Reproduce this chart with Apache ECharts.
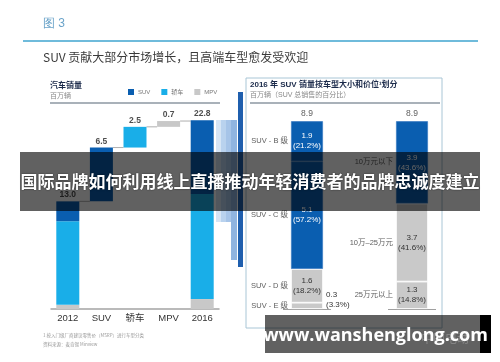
<!DOCTYPE html>
<html><head><meta charset="utf-8">
<script src="https://cdn.jsdelivr.net/npm/echarts@6/dist/echarts.min.js"></script>
<style>html,body{margin:0;padding:0;background:#fff}#c{width:500px;height:362px}</style>
</head><body><div id="c"></div>
<script>
// ---- Left chart: 汽车销量 (百万辆) waterfall ----
const categories = ['2012', 'SUV', '轿车', 'MPV', '2016'];
const suvValues = [2.4, 6.5, '-', '-', 8.9];
const carValues = [10.1, '-', 2.5, '-', 12.7];
const mpvValues = [0.5, '-', '-', 0.7, 1.2];
const waterfallLabels = ['13.0', '6.5', '2.5', '0.7', '22.8'];

// ---- Right chart: 2016 SUV 销量按车型大小和价位划分 ----
const segCategories = ['车型大小', '价位'];
const layer1Values = [0.3, 1.3];      // bottom
const layer2Values = [1.6, 3.7];
const layer3Values = [5.1, 3.9];
const layer4Values = [1.9, '-'];      // top
const layer1Pct = ['3.3%', '14.8%'];
const layer2Pct = ['18.2%', '41.6%'];
const layer3Pct = ['57.2%', '43.6%'];
const layer4Pct = ['21.2%', ''];
const layer1Names = ['SUV - E 级', '25万元以上'];
const layer2Names = ['SUV - D 级', '10万–25万元'];
const layer3Names = ['SUV - C 级', '10万元以下'];
const layer4Names = ['SUV - B 级', ''];
const segTotals = ['8.9', '8.9'];

const C_SUV = '#0a5eb0', C_CAR = '#19aee8', C_MPV = '#c8c8c8', C_GRAY = '#c9c9c9';
const FONT = "'Liberation Sans', 'Noto Sans CJK SC', sans-serif";

const num = v => (v === '-' ? 0 : v);
// waterfall geometry derived from data
const n = categories.length;
const bases = [], tops = [];
let running = 0;
for (let i = 0; i < n; i++) {
  const s = num(suvValues[i]) + num(carValues[i]) + num(mpvValues[i]);
  if (i === 0 || i === n - 1) { bases.push(0); tops.push(s); running = s; }
  else { bases.push(running); running += s; tops.push(running); }
}
const connectorData = [];
for (let i = 0; i < n - 1; i++) connectorData.push([i, tops[i]]);

// right chart geometry
const layers = [
  [layer1Values, layer1Pct, layer1Names, [C_GRAY, C_GRAY]],
  [layer2Values, layer2Pct, layer2Names, [C_GRAY, C_GRAY]],
  [layer3Values, layer3Pct, layer3Names, [C_SUV, C_SUV]],
  [layer4Values, layer4Pct, layer4Names, [C_SUV, C_SUV]]
];
const segSeries = [];
const sideLabelData = [];
const cum = [0, 0];
layers.forEach((L, li) => {
  const [vals, pcts, names, cols] = L;
  const data = vals.map((v, ci) => {
    if (v === '-') return '-';
    const mid = cum[ci] + v / 2;
    if (names[ci]) sideLabelData.push({ value: [ci, mid], name: names[ci] });
    const isGray = cols[ci] === C_GRAY;
    const small = v < 0.6;
    const item = {
      value: v,
      itemStyle: { color: cols[ci], borderColor: isGray ? '#ffffff' : '#3f7fc4', borderWidth: 0.8 },
      label: {
        show: true,
        formatter: v.toFixed(1) + '\n(' + pcts[ci] + ')',
        color: small ? '#333' : (isGray ? '#333' : '#fff'),
        position: small ? 'right' : 'inside',
        distance: 3,
        offset: small ? [0, -6] : [0, 0],
        align: small ? 'left' : 'center',
        fontSize: 8, lineHeight: 10, fontFamily: FONT
      }
    };
    cum[ci] += v;
    return item;
  });
  segSeries.push({
    type: 'bar', xAxisIndex: 1, yAxisIndex: 1, stack: 'seg', barWidth: 32,
    data: data, silent: true
  });
});
const segTotalData = cum.map((c, i) => [i, c]);

const chart = echarts.init(document.getElementById('c'), null, { renderer: 'canvas' });
const t = (o) => Object.assign({ type: 'text', z: 10 }, o);

chart.setOption({
  animation: false,
  textStyle: { fontFamily: FONT },
  legend: {
    data: ['SUV', '轿车', 'MPV'], left: 123, top: 84, itemWidth: 6, itemHeight: 6, itemGap: 11,
    icon: 'rect', textStyle: { fontSize: 6, color: '#777', padding: [0, 0, 0, -1] }, selectedMode: false
  },
  grid: [
    { left: 51, right: 281, top: 102, bottom: 53 },
    { left: 254.5, right: 35.5, top: 98, bottom: 53 }
  ],
  xAxis: [
    { type: 'category', gridIndex: 0, data: categories,
      axisLine: { lineStyle: { color: '#a4a4a4', width: 1.5 } }, axisTick: { show: false },
      axisLabel: { fontSize: 9.5, color: '#333', margin: 5, fontFamily: FONT } },
    { type: 'category', gridIndex: 1, data: segCategories, show: false }
  ],
  yAxis: [
    { type: 'value', gridIndex: 0, min: 0, max: 25, show: false, splitLine: { show: false } },
    { type: 'value', gridIndex: 1, min: 0, max: 10, show: false, splitLine: { show: false } }
  ],
  series: [
    { type: 'bar', name: 'base', stack: 'w', barWidth: 23, data: bases,
      itemStyle: { color: 'rgba(0,0,0,0)' }, silent: true },
    { type: 'bar', name: 'MPV', stack: 'w', barWidth: 23, data: mpvValues, itemStyle: { color: C_MPV }, silent: true },
    { type: 'bar', name: '轿车', stack: 'w', barWidth: 23, data: carValues, itemStyle: { color: C_CAR }, silent: true },
    { type: 'bar', name: 'SUV', stack: 'w', barWidth: 23, data: suvValues, itemStyle: { color: C_SUV }, silent: true },
    { type: 'scatter', symbolSize: 0, data: tops.map((v, i) => [i, v]), silent: true,
      label: { show: true, position: 'top', distance: 2, fontSize: 8.5, fontWeight: 'bold', color: '#222',
        formatter: p => waterfallLabels[p.dataIndex] } },
    { type: 'custom', data: connectorData, silent: true, z: 1,
      renderItem: (params, api) => {
        const i = api.value(0), lv = api.value(1);
        const a = api.coord([i, lv]), b = api.coord([i + 1, lv]);
        return { type: 'line', shape: { x1: a[0] + 11.5, y1: a[1], x2: b[0] - 11.5, y2: a[1] },
          style: { stroke: '#9a9a9a', lineWidth: 0.8 } };
      } },
    ...segSeries,
    { type: 'scatter', xAxisIndex: 1, yAxisIndex: 1, symbolSize: 0, data: segTotalData, silent: true,
      label: { show: true, position: 'top', distance: 3, fontSize: 8.5, color: '#333',
        formatter: p => segTotals[p.dataIndex] } },
    { type: 'scatter', xAxisIndex: 1, yAxisIndex: 1, symbolSize: 0, data: sideLabelData, silent: true,
      label: { show: true, position: 'left', distance: 19, fontSize: 7.5, color: '#333',
        formatter: p => p.name } },
    { type: 'custom', xAxisIndex: 1, yAxisIndex: 1, data: segCategories.map((c, i) => [i, 0]), silent: true,
      renderItem: (params, api) => {
        const a = api.coord([api.value(0), 0]);
        return { type: 'line', shape: { x1: a[0] - 24, y1: a[1] + 0.5, x2: a[0] + 24, y2: a[1] + 0.5 },
          style: { stroke: '#a0a0a0', lineWidth: 1.2 } };
      } }
  ],
  graphic: [
    t({ left: 43, top: 18, style: { text: '图 3', fontSize: 12, fill: '#6aa3c9', font: "12px 'Noto Sans CJK SC'" } }),
    { type: 'line', shape: { x1: 23, y1: 41, x2: 478, y2: 41 }, style: { stroke: '#3fa4cf', lineWidth: 1.5 } },
    t({ left: 43, top: 51, style: { text: 'SUV 贡献大部分市场增长，且高端车型愈发受欢迎', fill: '#3a3a3a',
        font: "12px 'Noto Sans CJK SC'" } }),
    t({ left: 50, top: 81, style: { text: '汽车销量', fill: '#1b2a4a', font: "bold 8px 'Noto Sans CJK SC'" } }),
    t({ left: 50, top: 92, style: { text: '百万辆', fill: '#888', font: "7px 'Noto Sans CJK SC'" } }),
    { type: 'line', shape: { x1: 50, y1: 103, x2: 220, y2: 103 }, style: { stroke: '#a9b1b9', lineWidth: 2 } },
    // decorative strips
    { type: 'rect', shape: { x: 216, y: 120, width: 5, height: 102 }, style: { fill: '#d6e5f5' } },
    { type: 'rect', shape: { x: 221, y: 120, width: 5, height: 102 }, style: { fill: '#b9d2ee' } },
    { type: 'rect', shape: { x: 226, y: 120, width: 5, height: 102 }, style: { fill: '#a6c4e8' } },
    { type: 'rect', shape: { x: 231, y: 120, width: 6, height: 140 }, style: { fill: '#8fb4e0' } },
    { type: 'rect', shape: { x: 238, y: 92, width: 5, height: 175 }, style: { fill: '#1f5fae' } },
    // right panel
    { type: 'rect', shape: { x: 246, y: 78, width: 196, height: 250 }, style: { fill: 'none', stroke: '#a9c6d6', lineWidth: 1 } },
    t({ left: 250, top: 81, style: { text: '2016 年 SUV 销量按车型大小和价位¹划分', fill: '#1b2a4a',
        font: "bold 8px 'Liberation Sans','Noto Sans CJK SC'" } }),
    t({ left: 250, top: 92, style: { text: '百万辆（SUV 总销售的百分比）', fill: '#888',
        font: "7px 'Liberation Sans','Noto Sans CJK SC'" } }),
    { type: 'line', shape: { x1: 250, y1: 103, x2: 440, y2: 103 }, style: { stroke: '#a9b1b9', lineWidth: 2 } },
    // footnotes
    t({ left: 43, top: 333, style: { text: '1 按入门级厂商建议零售价（MSRP）进行车型分类', fill: '#999',
        font: "4.5px 'Noto Sans CJK SC'" } }),
    t({ left: 43, top: 342, style: { text: '资料来源：麦肯锡 Minview', fill: '#999', font: "4.5px 'Noto Sans CJK SC'" } }),
    // overlay banners
    { type: 'rect', z: 100, shape: { x: 20, y: 152, width: 460, height: 59 }, style: { fill: 'rgba(0,0,0,0.62)' } },
    { type: 'text', z: 101, x: 250, y: 182, style: { text: '国际品牌如何利用线上直播推动年轻消费者的品牌忠诚度建立',
        fill: '#fff', font: "bold 17px 'Noto Sans CJK SC'", align: 'center', verticalAlign: 'middle',
        textShadowColor: 'rgba(0,0,0,0.6)', textShadowBlur: 2 } },
    { type: 'rect', z: 100, shape: { x: 265, y: 315, width: 215, height: 38 }, style: { fill: 'rgba(0,0,0,0.62)' } },
    { type: 'rect', z: 100, shape: { x: 480, y: 315, width: 11, height: 38 }, style: { fill: '#000' } },
    { type: 'text', z: 101, x: 445, y: 338, style: { text: '中国电动', fill: 'rgba(170,170,170,0.5)',
        font: "12px 'Noto Sans CJK SC'", align: 'center', verticalAlign: 'middle' } },
    { type: 'text', z: 102, x: 375.5, y: 336, style: { text: 'www.wanshenglong.com', fill: '#fff',
        font: "bold 18px 'Open Sans'", align: 'center', verticalAlign: 'middle' } }
  ]
});
</script></body></html>
